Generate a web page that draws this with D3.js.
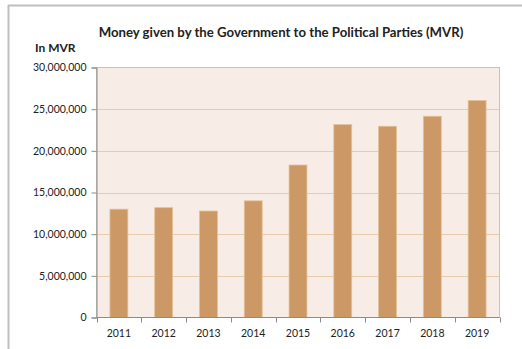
<!DOCTYPE html>
<html><head><meta charset="utf-8">
<script src="https://cdn.jsdelivr.net/npm/d3@7"></script>
<style>body{margin:0;background:#fff;}svg{display:block;font-family:Lato,"Open Sans",sans-serif;}</style>
</head><body>
<script>
const years = ["2011","2012","2013","2014","2015","2016","2017","2018","2019"];
const amounts = [13000000,13180000,12780000,14000000,18300000,23150000,22950000,24150000,26050000];
const yTicks = [0,5000000,10000000,15000000,20000000,25000000,30000000];
const title = "Money given by the Government to the Political Parties (MVR)";
const yUnit = "In MVR";

const W=522,H=349;
const svg=d3.select("body").append("svg").attr("width",W).attr("height",H);
// outer frame (left + top)
svg.append("line").attr("x1",8.5).attr("x2",8.5).attr("y1",5).attr("y2",H).attr("stroke","#bfbfbf").attr("stroke-width",2);
svg.append("line").attr("x1",8).attr("x2",W).attr("y1",5.5).attr("y2",5.5).attr("stroke","#bfbfbf").attr("stroke-width",2);

const L=96.5,R=499.5,T=67.5,B=317.5;
const x=d3.scaleBand().domain(years).range([L,R]).paddingInner(0.6).paddingOuter(0.3);
const y=d3.scaleLinear().domain([0,30000000]).range([B,T]);

svg.append("rect").attr("x",L).attr("y",T).attr("width",R-L).attr("height",B-T).attr("fill","#f7ede6").attr("stroke","#c8c2bc").attr("stroke-width",1);
svg.append("g").selectAll("line").data(yTicks.slice(1,-1)).join("line")
 .attr("x1",L).attr("x2",R).attr("y1",d=>Math.round(y(d))+0.5).attr("y2",d=>Math.round(y(d))+0.5)
 .attr("stroke","#e8cbab").attr("stroke-width",1.1);

svg.append("g").selectAll("rect").data(years).join("rect")
 .attr("x",d=>x(d)).attr("width",x.bandwidth())
 .attr("y",(d,i)=>y(amounts[i])).attr("height",(d,i)=>B-y(amounts[i]))
 .attr("fill","#cc9966").attr("stroke","#e3c198").attr("stroke-width",0.8);

// y axis
const ya=svg.append("g").attr("transform",`translate(${L},0)`)
 .call(d3.axisLeft(y).tickValues(yTicks).tickFormat(d3.format(",")).tickSizeOuter(0).tickSize(5).tickPadding(5));
ya.select(".domain").attr("stroke","#8c8c8c");
ya.selectAll(".tick line").attr("stroke","#8c8c8c");
ya.selectAll("text").attr("font-size",10.5).attr("fill","#222").attr("font-family","Lato,sans-serif");

// x axis with ticks at band boundaries
const xa=svg.append("g").attr("transform",`translate(0,${B})`);
xa.append("line").attr("x1",L).attr("x2",R).attr("stroke","#8c8c8c");
const bounds=d3.range(years.length+1).map(i=>L+i*(R-L)/years.length);
xa.selectAll("line.t").data(bounds).join("line").attr("class","t")
 .attr("x1",d=>Math.round(d)+0.5).attr("x2",d=>Math.round(d)+0.5).attr("y1",0).attr("y2",5).attr("stroke","#8c8c8c");
xa.selectAll("text").data(years).join("text")
 .attr("x",d=>x(d)+x.bandwidth()/2).attr("y",19).attr("text-anchor","middle")
 .attr("font-size",10.5).attr("fill","#222").text(d=>d);

svg.append("text").attr("x",281).attr("y",37).attr("text-anchor","middle")
 .attr("font-size",13.2).attr("font-weight","bold").attr("fill","#222").text(title);
svg.append("text").attr("x",35).attr("y",51.5)
 .attr("font-size",12).attr("font-weight","bold").attr("fill","#222").text(yUnit);
</script>
</body></html>
